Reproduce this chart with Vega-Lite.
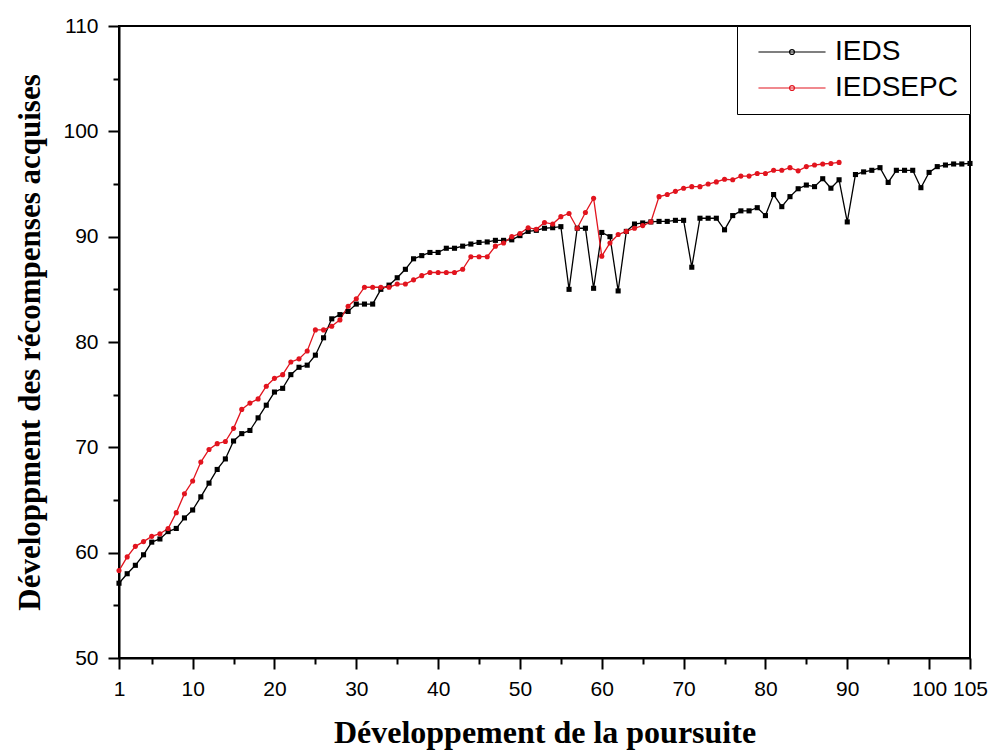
{
 "$schema": "https://vega.github.io/schema/vega-lite/v6.json",
 "width": 851,
 "height": 632,
 "autosize": {"type": "none"},
 "padding": {"left": 119, "top": 26, "right": 22, "bottom": 97},
 "background": "white",
 "config": {"view": {"stroke": "black", "strokeWidth": 2}},
 "data": {"values": [
  {"x":1,"s":"IEDS","v":57.1},{"x":2,"s":"IEDS","v":58.0},{"x":3,"s":"IEDS","v":58.8},{"x":4,"s":"IEDS","v":59.8},{"x":5,"s":"IEDS","v":61.0},
  {"x":6,"s":"IEDS","v":61.3},{"x":7,"s":"IEDS","v":62.0},{"x":8,"s":"IEDS","v":62.3},{"x":9,"s":"IEDS","v":63.3},{"x":10,"s":"IEDS","v":64.05},
  {"x":11,"s":"IEDS","v":65.3},{"x":12,"s":"IEDS","v":66.6},{"x":13,"s":"IEDS","v":67.9},{"x":14,"s":"IEDS","v":68.9},{"x":15,"s":"IEDS","v":70.6},
  {"x":16,"s":"IEDS","v":71.3},{"x":17,"s":"IEDS","v":71.6},{"x":18,"s":"IEDS","v":72.8},{"x":19,"s":"IEDS","v":74.0},{"x":20,"s":"IEDS","v":75.25},
  {"x":21,"s":"IEDS","v":75.6},{"x":22,"s":"IEDS","v":76.9},{"x":23,"s":"IEDS","v":77.6},{"x":24,"s":"IEDS","v":77.8},{"x":25,"s":"IEDS","v":78.75},
  {"x":26,"s":"IEDS","v":80.4},{"x":27,"s":"IEDS","v":82.2},{"x":28,"s":"IEDS","v":82.6},{"x":29,"s":"IEDS","v":82.9},{"x":30,"s":"IEDS","v":83.6},
  {"x":31,"s":"IEDS","v":83.6},{"x":32,"s":"IEDS","v":83.6},{"x":33,"s":"IEDS","v":85.0},{"x":34,"s":"IEDS","v":85.4},{"x":35,"s":"IEDS","v":86.1},
  {"x":36,"s":"IEDS","v":86.9},{"x":37,"s":"IEDS","v":87.9},{"x":38,"s":"IEDS","v":88.2},{"x":39,"s":"IEDS","v":88.5},{"x":40,"s":"IEDS","v":88.5},
  {"x":41,"s":"IEDS","v":88.9},{"x":42,"s":"IEDS","v":88.9},{"x":43,"s":"IEDS","v":89.1},{"x":44,"s":"IEDS","v":89.3},{"x":45,"s":"IEDS","v":89.45},
  {"x":46,"s":"IEDS","v":89.5},{"x":47,"s":"IEDS","v":89.65},{"x":48,"s":"IEDS","v":89.65},{"x":49,"s":"IEDS","v":89.7},{"x":50,"s":"IEDS","v":90.1},
  {"x":51,"s":"IEDS","v":90.5},{"x":52,"s":"IEDS","v":90.6},{"x":53,"s":"IEDS","v":90.8},{"x":54,"s":"IEDS","v":90.85},{"x":55,"s":"IEDS","v":90.95},
  {"x":56,"s":"IEDS","v":85.0},{"x":57,"s":"IEDS","v":90.8},{"x":58,"s":"IEDS","v":90.8},{"x":59,"s":"IEDS","v":85.1},{"x":60,"s":"IEDS","v":90.4},
  {"x":61,"s":"IEDS","v":90.0},{"x":62,"s":"IEDS","v":84.85},{"x":63,"s":"IEDS","v":90.5},{"x":64,"s":"IEDS","v":91.2},{"x":65,"s":"IEDS","v":91.3},
  {"x":66,"s":"IEDS","v":91.4},{"x":67,"s":"IEDS","v":91.45},{"x":68,"s":"IEDS","v":91.45},{"x":69,"s":"IEDS","v":91.55},{"x":70,"s":"IEDS","v":91.55},
  {"x":71,"s":"IEDS","v":87.1},{"x":72,"s":"IEDS","v":91.75},{"x":73,"s":"IEDS","v":91.75},{"x":74,"s":"IEDS","v":91.75},{"x":75,"s":"IEDS","v":90.65},
  {"x":76,"s":"IEDS","v":92.0},{"x":77,"s":"IEDS","v":92.45},{"x":78,"s":"IEDS","v":92.45},{"x":79,"s":"IEDS","v":92.75},{"x":80,"s":"IEDS","v":92.0},
  {"x":81,"s":"IEDS","v":94.0},{"x":82,"s":"IEDS","v":92.85},{"x":83,"s":"IEDS","v":93.8},{"x":84,"s":"IEDS","v":94.55},{"x":85,"s":"IEDS","v":94.9},
  {"x":86,"s":"IEDS","v":94.75},{"x":87,"s":"IEDS","v":95.5},{"x":88,"s":"IEDS","v":94.6},{"x":89,"s":"IEDS","v":95.4},{"x":90,"s":"IEDS","v":91.4},
  {"x":91,"s":"IEDS","v":95.9},{"x":92,"s":"IEDS","v":96.15},{"x":93,"s":"IEDS","v":96.3},{"x":94,"s":"IEDS","v":96.55},{"x":95,"s":"IEDS","v":95.15},
  {"x":96,"s":"IEDS","v":96.3},{"x":97,"s":"IEDS","v":96.3},{"x":98,"s":"IEDS","v":96.3},{"x":99,"s":"IEDS","v":94.65},{"x":100,"s":"IEDS","v":96.1},
  {"x":101,"s":"IEDS","v":96.65},{"x":102,"s":"IEDS","v":96.8},{"x":103,"s":"IEDS","v":96.9},{"x":104,"s":"IEDS","v":96.9},{"x":105,"s":"IEDS","v":96.95},
  {"x":1,"s":"IEDSEPC","v":58.3},{"x":2,"s":"IEDSEPC","v":59.6},{"x":3,"s":"IEDSEPC","v":60.6},{"x":4,"s":"IEDSEPC","v":61.05},{"x":5,"s":"IEDSEPC","v":61.55},
  {"x":6,"s":"IEDSEPC","v":61.8},{"x":7,"s":"IEDSEPC","v":62.3},{"x":8,"s":"IEDSEPC","v":63.8},{"x":9,"s":"IEDSEPC","v":65.6},{"x":10,"s":"IEDSEPC","v":66.8},
  {"x":11,"s":"IEDSEPC","v":68.6},{"x":12,"s":"IEDSEPC","v":69.8},{"x":13,"s":"IEDSEPC","v":70.35},{"x":14,"s":"IEDSEPC","v":70.55},{"x":15,"s":"IEDSEPC","v":71.8},
  {"x":16,"s":"IEDSEPC","v":73.6},{"x":17,"s":"IEDSEPC","v":74.2},{"x":18,"s":"IEDSEPC","v":74.6},{"x":19,"s":"IEDSEPC","v":75.8},{"x":20,"s":"IEDSEPC","v":76.55},
  {"x":21,"s":"IEDSEPC","v":76.9},{"x":22,"s":"IEDSEPC","v":78.1},{"x":23,"s":"IEDSEPC","v":78.4},{"x":24,"s":"IEDSEPC","v":79.15},{"x":25,"s":"IEDSEPC","v":81.15},
  {"x":26,"s":"IEDSEPC","v":81.15},{"x":27,"s":"IEDSEPC","v":81.5},{"x":28,"s":"IEDSEPC","v":82.1},{"x":29,"s":"IEDSEPC","v":83.4},{"x":30,"s":"IEDSEPC","v":84.1},
  {"x":31,"s":"IEDSEPC","v":85.2},{"x":32,"s":"IEDSEPC","v":85.2},{"x":33,"s":"IEDSEPC","v":85.2},{"x":34,"s":"IEDSEPC","v":85.2},{"x":35,"s":"IEDSEPC","v":85.5},
  {"x":36,"s":"IEDSEPC","v":85.5},{"x":37,"s":"IEDSEPC","v":85.9},{"x":38,"s":"IEDSEPC","v":86.3},{"x":39,"s":"IEDSEPC","v":86.6},{"x":40,"s":"IEDSEPC","v":86.6},
  {"x":41,"s":"IEDSEPC","v":86.6},{"x":42,"s":"IEDSEPC","v":86.6},{"x":43,"s":"IEDSEPC","v":86.9},{"x":44,"s":"IEDSEPC","v":88.1},{"x":45,"s":"IEDSEPC","v":88.1},
  {"x":46,"s":"IEDSEPC","v":88.1},{"x":47,"s":"IEDSEPC","v":89.1},{"x":48,"s":"IEDSEPC","v":89.4},{"x":49,"s":"IEDSEPC","v":90.0},{"x":50,"s":"IEDSEPC","v":90.3},
  {"x":51,"s":"IEDSEPC","v":90.85},{"x":52,"s":"IEDSEPC","v":90.7},{"x":53,"s":"IEDSEPC","v":91.35},{"x":54,"s":"IEDSEPC","v":91.2},{"x":55,"s":"IEDSEPC","v":91.9},
  {"x":56,"s":"IEDSEPC","v":92.2},{"x":57,"s":"IEDSEPC","v":90.8},{"x":58,"s":"IEDSEPC","v":92.3},{"x":59,"s":"IEDSEPC","v":93.65},{"x":60,"s":"IEDSEPC","v":88.15},
  {"x":61,"s":"IEDSEPC","v":89.4},{"x":62,"s":"IEDSEPC","v":90.2},{"x":63,"s":"IEDSEPC","v":90.5},{"x":64,"s":"IEDSEPC","v":90.8},{"x":65,"s":"IEDSEPC","v":91.05},
  {"x":66,"s":"IEDSEPC","v":91.4},{"x":67,"s":"IEDSEPC","v":93.8},{"x":68,"s":"IEDSEPC","v":94.0},{"x":69,"s":"IEDSEPC","v":94.3},{"x":70,"s":"IEDSEPC","v":94.6},
  {"x":71,"s":"IEDSEPC","v":94.75},{"x":72,"s":"IEDSEPC","v":94.75},{"x":73,"s":"IEDSEPC","v":95.0},{"x":74,"s":"IEDSEPC","v":95.2},{"x":75,"s":"IEDSEPC","v":95.45},
  {"x":76,"s":"IEDSEPC","v":95.4},{"x":77,"s":"IEDSEPC","v":95.75},{"x":78,"s":"IEDSEPC","v":95.75},{"x":79,"s":"IEDSEPC","v":96.0},{"x":80,"s":"IEDSEPC","v":96.0},
  {"x":81,"s":"IEDSEPC","v":96.3},{"x":82,"s":"IEDSEPC","v":96.3},{"x":83,"s":"IEDSEPC","v":96.55},{"x":84,"s":"IEDSEPC","v":96.25},{"x":85,"s":"IEDSEPC","v":96.65},
  {"x":86,"s":"IEDSEPC","v":96.8},{"x":87,"s":"IEDSEPC","v":96.9},{"x":88,"s":"IEDSEPC","v":96.95},{"x":89,"s":"IEDSEPC","v":97.05}
 ]},
 "encoding": {
  "x": {"field": "x", "type": "quantitative",
   "scale": {"domain": [1, 105], "nice": false, "zero": false},
   "axis": {
    "values": [1,5,10,15,20,25,30,35,40,45,50,55,60,65,70,75,80,85,90,95,100,105],
    "labelExpr": "(datum.value % 10 === 0 || datum.value === 1 || datum.value === 105) ? datum.label : ''",
    "tickSize": {"condition": {"test": "datum.value % 10 === 0 || datum.value === 1 || datum.value === 105", "value": 11}, "value": 6},
    "grid": false, "domainColor": "black", "domainWidth": 2, "tickColor": "black", "tickWidth": 2,
    "labelFont": "Liberation Sans", "labelFontSize": 21, "labelColor": "black", "labelPadding": 9,
    "labelOverlap": false, "labelFlush": false, "labelBound": false,
    "title": "Développement de la poursuite", "titleFont": "Liberation Serif", "titleFontSize": 32,
    "titleFontWeight": "bold", "titleColor": "black", "titlePadding": 18
   }},
  "y": {"field": "v", "type": "quantitative",
   "scale": {"domain": [50, 110], "nice": false, "zero": false},
   "axis": {
    "values": [50,55,60,65,70,75,80,85,90,95,100,105,110],
    "labelExpr": "datum.value % 10 === 0 ? datum.label : ''",
    "tickSize": {"condition": {"test": "datum.value % 10 === 0", "value": 11}, "value": 6},
    "grid": false, "domainColor": "black", "domainWidth": 2, "tickColor": "black", "tickWidth": 2,
    "labelFont": "Liberation Sans", "labelFontSize": 21, "labelColor": "black", "labelPadding": 10,
    "labelOverlap": false, "labelBound": false, "labelFlush": false,
    "title": "Développment des récompenses acquises", "titleFont": "Liberation Serif", "titleFontSize": 31,
    "titleFontWeight": "bold", "titleColor": "black", "titlePadding": 16
   }}
 },
 "layer": [
  {"mark": {"type": "line", "strokeWidth": 1.3},
   "encoding": {"color": {"field": "s", "type": "nominal",
    "scale": {"domain": ["IEDS", "IEDSEPC"], "range": ["#000000", "#e2141e"]},
    "legend": {
     "title": null, "orient": "top-right", "offset": 0, "padding": 12,
     "strokeColor": "black", "fillColor": "white",
     "labelFont": "Liberation Sans", "labelFontSize": 28, "labelColor": "black", "labelLimit": 400,
     "symbolSize": 80, "symbolOffset": 29, "labelOffset": 29, "rowPadding": 8, "symbolStrokeWidth": 1.2,
     "symbolType": "M-7.5,0H7.5M0.55,0A0.55,0.55,0,1,1,-0.55,0A0.55,0.55,0,1,1,0.55,0Z"
    }}}},
  {"mark": {"type": "point", "filled": true, "opacity": 1, "size": 26},
   "encoding": {
    "fill": {"field": "s", "type": "nominal",
     "scale": {"range": ["#000000", "#e2141e"]}, "legend": null},
    "shape": {"field": "s", "type": "nominal",
     "scale": {"range": ["square", "circle"]}, "legend": null}}}
 ]
}
